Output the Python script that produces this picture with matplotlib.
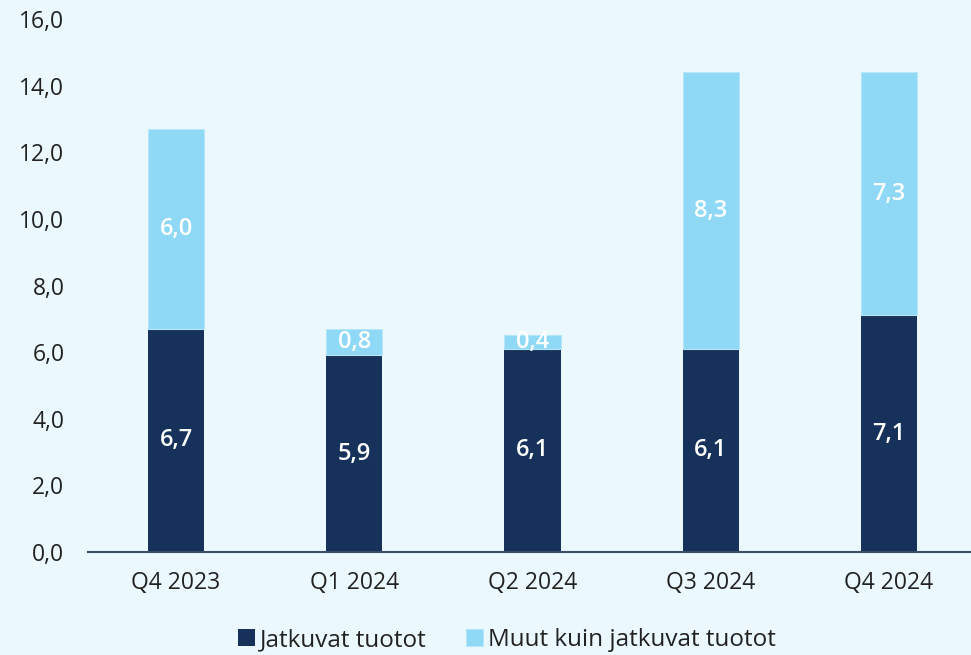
import numpy as np
import matplotlib.pyplot as plt

quarters = ['Q4 2023', 'Q1 2024', 'Q2 2024', 'Q3 2024', 'Q4 2024']
jatkuvat = [6.7, 5.9, 6.1, 6.1, 7.1]
muut = [6.0, 0.8, 0.4, 8.3, 7.3]
yticks = [0, 2, 4, 6, 8, 10, 12, 14, 16]

dark = '#17325a'
light = '#8fd9f6'
bg = '#ebf8fd'

plt.rcParams['font.family'] = ['Open Sans', 'DejaVu Sans']

fig = plt.figure(figsize=(9.71, 6.55), dpi=100, facecolor=bg)
ax = fig.add_axes([88/971, 1 - 552/655, 1 - 88/971, 533/655])
ax.set_facecolor(bg)

x = np.arange(len(quarters))
w = 0.315
b1 = ax.bar(x, jatkuvat, w, color=dark, label='Jatkuvat tuotot')
b2 = ax.bar(x, muut, w, bottom=jatkuvat, color=light, edgecolor='#b5e6fa',
            linewidth=0.8, label='Muut kuin jatkuvat tuotot')

for i in range(len(quarters)):
    ax.text(x[i], jatkuvat[i] / 2, f'{jatkuvat[i]:.1f}'.replace('.', ','),
            ha='center', va='center', color='white', fontsize=17, fontweight='semibold')
    ax.text(x[i], jatkuvat[i] + muut[i] / 2, f'{muut[i]:.1f}'.replace('.', ','),
            ha='center', va='center', color='white', fontsize=17, fontweight='semibold')

ax.set_xlim(-0.494, 4.46)
ax.set_ylim(0, 16)
ax.set_yticks(yticks)
ax.set_yticklabels([f'{v:.1f}'.replace('.', ',') for v in yticks])
ax.set_xticks(x)
ax.set_xticklabels(quarters)
ax.tick_params(axis='both', length=0, labelsize=16.5, colors='#222222')
ax.tick_params(axis='y', pad=17)
ax.tick_params(axis='x', pad=14)
for s in ['top', 'right', 'left']:
    ax.spines[s].set_visible(False)
ax.spines['bottom'].set_color('#3b4f6b')
ax.spines['bottom'].set_linewidth(1.5)

fig.legend(handles=[b1, b2], loc='center', bbox_to_anchor=(507/971, 1 - 640/655),
           ncol=2, frameon=False, fontsize=17.5, handlelength=0.7, handleheight=0.7,
           handletextpad=0.2, columnspacing=1.6, labelcolor='#222222')

fig.savefig('out.png', dpi=100, facecolor=bg)
